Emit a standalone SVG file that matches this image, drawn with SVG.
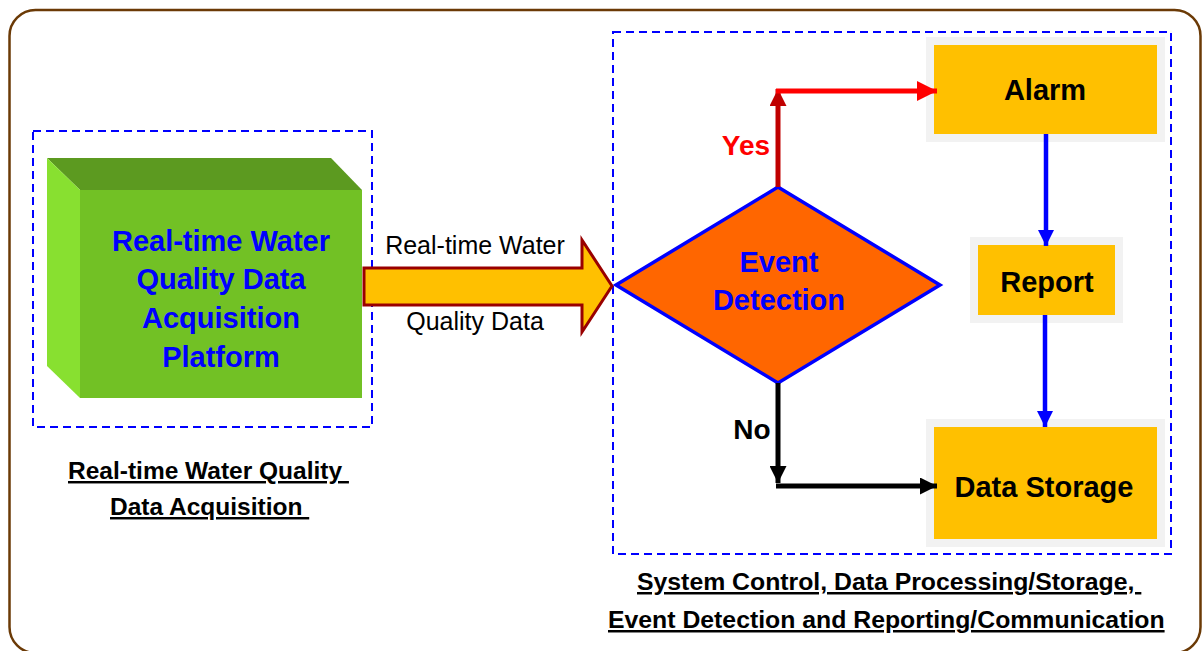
<svg xmlns="http://www.w3.org/2000/svg" width="1202" height="651" viewBox="0 0 1202 651">
<style>
.frame{fill:#fff;stroke:#6B3A06;stroke-width:2.5}
.dash{fill:none;stroke:#0000FF;stroke-width:2;stroke-dasharray:8,5}
.bold{font-family:"Liberation Sans",Arial,sans-serif;font-weight:bold;text-anchor:middle}
.lbl{font-family:"Liberation Sans",Arial,sans-serif;font-weight:bold;text-anchor:start;fill:#000;text-decoration:underline}
.reg{font-family:"Liberation Sans",Arial,sans-serif;text-anchor:middle;fill:#000}
.box{fill:#FFC000;stroke:#F2F2F2;stroke-width:8}
</style>
<defs>
<marker id="mRed" viewBox="0 0 10 10" refX="10" refY="5" markerWidth="4" markerHeight="4" markerUnits="strokeWidth" orient="auto"><path d="M0,0L10,5L0,10z" fill="#FF0000"/></marker>
<marker id="mDark" viewBox="0 0 10 10" refX="10" refY="5" markerWidth="3.4" markerHeight="3.4" markerUnits="strokeWidth" orient="auto"><path d="M0,0L10,5L0,10z" fill="#C00000"/></marker>
<marker id="mBlue" viewBox="0 0 10 10" refX="10" refY="5" markerWidth="3.6" markerHeight="3.6" markerUnits="strokeWidth" orient="auto"><path d="M0,0L10,5L0,10z" fill="#0000FF"/></marker>
<marker id="mBlack" viewBox="0 0 10 10" refX="10" refY="5" markerWidth="3.4" markerHeight="3.4" markerUnits="strokeWidth" orient="auto"><path d="M0,0L10,5L0,10z" fill="#000"/></marker>
</defs>
<rect class="frame" x="9.5" y="10" width="1191" height="643" rx="26"/>

<g id="acquisition-group">
<rect class="dash" x="33" y="131" width="339" height="296"/>
<g id="platform">
<polygon points="47,158 331,158 362,190 80,190" fill="#5C9A20"/>
<polygon points="47,158 80,190 80,398 47,366" fill="#88E030"/>
<rect x="80" y="190" width="282" height="208" fill="#72C125"/>
<text class="bold" font-size="29" fill="#0000FF"><tspan x="221" y="251">Real-time Water</tspan><tspan x="221" y="289">Quality Data</tspan><tspan x="221" y="328">Acquisition</tspan><tspan x="221" y="367">Platform</tspan></text>
</g>
<text class="lbl" font-size="24.5" xml:space="preserve"><tspan x="68" y="479">Real-time Water Quality </tspan><tspan x="110" y="515">Data Acquisition </tspan></text>
</g>

<g id="processing-group">
<rect class="dash" x="613" y="32" width="558" height="522"/>
<text class="lbl" font-size="24.8" xml:space="preserve"><tspan x="637" y="590">System Control, Data Processing/Storage, </tspan><tspan x="608" y="628">Event Detection and Reporting/Communication</tspan></text>
</g>

<g id="event-detection">
<polygon points="616,285 778,187 940,285 778,383" fill="#FF6600" stroke="#0000FF" stroke-width="3.5"/>
<text class="bold" font-size="29" fill="#0000FF"><tspan x="779" y="272">Event</tspan><tspan x="779" y="310">Detection</tspan></text>
</g>

<g id="alarm">
<rect class="box" x="930" y="41" width="231" height="97"/>
<text class="bold" font-size="29" fill="#000" x="1045" y="100">Alarm</text>
</g>
<g id="report">
<rect class="box" x="974" y="241" width="145" height="78"/>
<text class="bold" font-size="29" fill="#000" x="1047" y="292">Report</text>
</g>
<g id="data-storage">
<rect class="box" x="930" y="423" width="231" height="120"/>
<text class="bold" font-size="29" fill="#000" x="1044" y="497">Data Storage</text>
</g>

<g id="connectors">
<g id="data-arrow">
<polygon points="364,268 582,268 582,240 612,286 582,332 582,305 364,305" fill="#FFC000" stroke="#990000" stroke-width="3"/>
<text class="reg" font-size="25" x="475" y="254">Real-time Water</text>
<text class="reg" font-size="25" x="475" y="330">Quality Data</text>
</g>
<line x1="778" y1="187" x2="778" y2="89" stroke="#C00000" stroke-width="5" marker-end="url(#mDark)"/>
<line x1="776" y1="91" x2="937" y2="91" stroke="#FF0000" stroke-width="5" marker-end="url(#mRed)"/>
<line x1="1046" y1="134" x2="1046" y2="246" stroke="#0000FF" stroke-width="4.5" marker-end="url(#mBlue)"/>
<line x1="1045" y1="315" x2="1045" y2="427" stroke="#0000FF" stroke-width="4.5" marker-end="url(#mBlue)"/>
<line x1="778" y1="383" x2="778" y2="483" stroke="#000" stroke-width="5" marker-end="url(#mBlack)"/>
<line x1="776" y1="486" x2="937" y2="486" stroke="#000" stroke-width="5" marker-end="url(#mBlack)"/>
<text class="bold" font-size="28" fill="#FF0000" x="746" y="155">Yes</text>
<text class="bold" font-size="28" fill="#000" x="752" y="439">No</text>
</g>
</svg>
